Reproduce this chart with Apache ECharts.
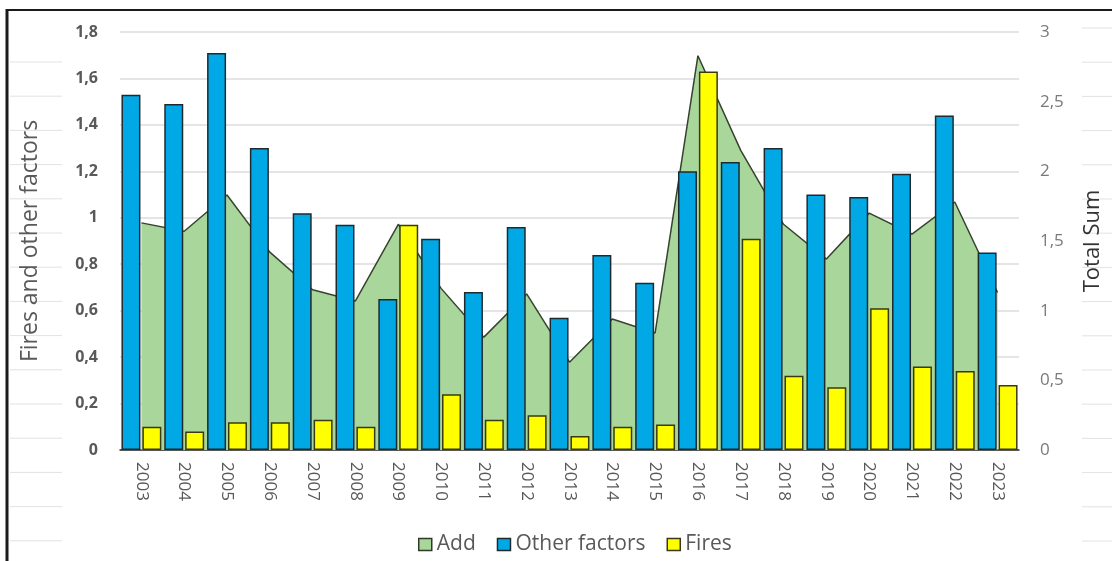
<!DOCTYPE html>
<html>
<head>
<meta charset="utf-8">
<title>Fires and other factors</title>
<script src="https://cdn.jsdelivr.net/npm/echarts@6/dist/echarts.min.js"></script>
<style>
  html, body { margin: 0; padding: 0; background: #ffffff; }
  #chart { width: 1112px; height: 561px; }
</style>
</head>
<body>
<div id="chart"></div>
<script>
// Years on the category axis
const years = ['2003','2004','2005','2006','2007','2008','2009','2010','2011','2012',
               '2013','2014','2015','2016','2017','2018','2019','2020','2021','2022','2023'];

// Left axis: other factors and fires
const otherFactors = [1.53, 1.49, 1.71, 1.30, 1.02, 0.97, 0.65, 0.91, 0.68, 0.96,
                      0.57, 0.84, 0.72, 1.20, 1.24, 1.30, 1.10, 1.09, 1.19, 1.44, 0.85];
const fires = [0.10, 0.08, 0.12, 0.12, 0.13, 0.10, 0.97, 0.24, 0.13, 0.15,
               0.06, 0.10, 0.11, 1.63, 0.91, 0.32, 0.27, 0.61, 0.36, 0.34, 0.28];

// Right axis: total sum (area)
const totalSum = [1.63, 1.57, 1.83, 1.42, 1.15, 1.07, 1.62, 1.16, 0.81, 1.12,
                  0.63, 0.94, 0.84, 2.83, 2.15, 1.62, 1.37, 1.70, 1.55, 1.78, 1.13];

// Axis ranges
const leftMin = 0, leftMax = 1.8, leftStep = 0.2;
const rightMin = 0, rightMax = 3, rightStep = 0.5;

const FONT = '"Open Sans", "Liberation Sans", sans-serif';
const GREY = '#595959';

function comma(v) {
  return String(Math.round(v * 10) / 10).replace('.', ',');
}

// Faint ruled lines behind the chart frame
const deco = [];
for (let k = 0; k < 15; k++) {
  const y = 62 + 34.2 * k;
  deco.push({ type: 'line', shape: { x1: 10, y1: y, x2: 62, y2: y },
              style: { stroke: '#e2e2e2', lineWidth: 1 }, silent: true });
}
for (let k = 0; k < 16; k++) {
  const y = 28 + 34.2 * k;
  deco.push({ type: 'line', shape: { x1: 1082, y1: y, x2: 1112, y2: y },
              style: { stroke: '#e2e2e2', lineWidth: 1 }, silent: true });
}
// Frame
deco.push({ type: 'line', shape: { x1: 7, y1: 10, x2: 1112, y2: 10 },
            style: { stroke: '#1a1a1a', lineWidth: 2 }, silent: true });
deco.push({ type: 'line', shape: { x1: 7, y1: 9, x2: 7, y2: 561 },
            style: { stroke: '#1a1a1a', lineWidth: 3 }, silent: true });

const chart = echarts.init(document.getElementById('chart'), null, { renderer: 'canvas' });

chart.setOption({
  backgroundColor: '#ffffff',
  animation: false,
  textStyle: { fontFamily: FONT },
  graphic: deco,
  grid: { left: 120, right: 90, top: 32, bottom: 111, containLabel: false },
  legend: {
    left: 413,
    top: 529,
    itemWidth: 13,
    itemHeight: 12,
    itemGap: 21,
    icon: 'rect',
    textStyle: { color: GREY, fontSize: 21, fontFamily: FONT, padding: [0, 0, 0, 0] },
    data: [
      { name: 'Add', itemStyle: { color: '#A9D69B', borderColor: '#2f3a2a', borderWidth: 1.5 } },
      { name: 'Other factors', itemStyle: { color: '#00A9E6', borderColor: '#1f2a30', borderWidth: 1.5 } },
      { name: 'Fires', itemStyle: { color: '#FFFF00', borderColor: '#3a3a12', borderWidth: 1.5 } }
    ]
  },
  xAxis: {
    type: 'category',
    data: years,
    boundaryGap: true,
    axisLine: { show: true, lineStyle: { color: '#2b2b2b', width: 1.5 } },
    axisTick: { show: false },
    axisLabel: { rotate: -90, color: GREY, fontSize: 17, margin: 12, fontFamily: FONT },
    splitLine: { show: false }
  },
  yAxis: [
    {
      type: 'value',
      min: leftMin, max: leftMax, interval: leftStep,
      position: 'left',
      name: 'Fires and other factors',
      nameLocation: 'middle',
      nameRotate: 90,
      nameGap: 78,
      nameTextStyle: { color: GREY, fontSize: 23, fontFamily: FONT },
      axisLine: { show: false },
      axisTick: { show: false },
      axisLabel: { color: GREY, fontSize: 16, fontWeight: 'bold', margin: 22,
                   formatter: comma, fontFamily: FONT },
      splitLine: { show: true, lineStyle: { color: '#dcdcdc', width: 1.5 } }
    },
    {
      type: 'value',
      min: rightMin, max: rightMax, interval: rightStep,
      position: 'right',
      name: 'Total Sum',
      nameLocation: 'middle',
      nameRotate: 90,
      nameGap: 63,
      nameTextStyle: { color: '#333333', fontSize: 22, fontFamily: FONT },
      axisLine: { show: false },
      axisTick: { show: false },
      axisLabel: { color: '#7a7a7a', fontSize: 17, margin: 21,
                   formatter: comma, fontFamily: FONT },
      splitLine: { show: false }
    }
  ],
  series: [
    {
      name: 'Add',
      type: 'line',
      yAxisIndex: 1,
      data: totalSum,
      symbol: 'none',
      z: 1,
      lineStyle: { color: '#36432f', width: 1.5 },
      areaStyle: { color: '#A9D69B', opacity: 1 },
      itemStyle: { color: '#A9D69B' }
    },
    {
      name: 'Other factors',
      type: 'bar',
      yAxisIndex: 0,
      data: otherFactors,
      barWidth: 19,
      barGap: '10%',
      z: 3,
      itemStyle: { color: '#00A9E6', borderColor: '#1f2a30', borderWidth: 1.5 }
    },
    {
      name: 'Fires',
      type: 'bar',
      yAxisIndex: 0,
      data: fires,
      barWidth: 19,
      barGap: '10%',
      z: 3,
      itemStyle: { color: '#FFFF00', borderColor: '#3a3a12', borderWidth: 1.5 }
    }
  ]
});
</script>
</body>
</html>
